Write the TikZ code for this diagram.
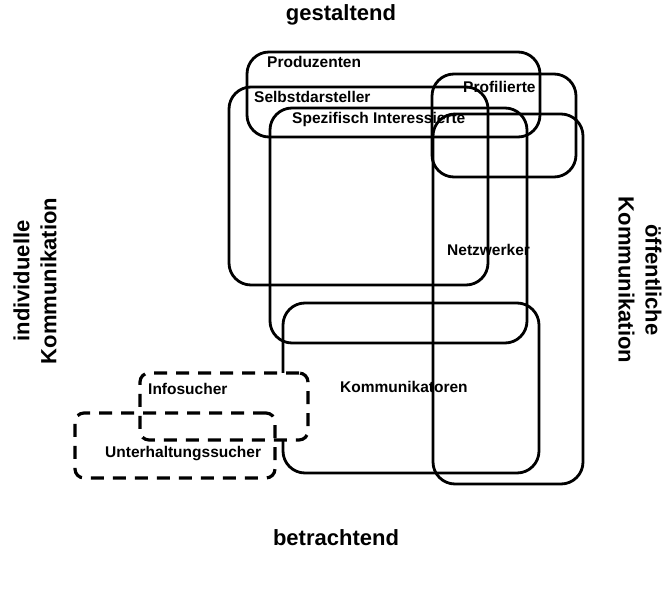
\documentclass[tikz,border=0pt]{standalone}
\usepackage{fontspec}
\setmainfont{Liberation Sans}
\usetikzlibrary{fit}
\tikzset{
  grp/.style={draw,rounded corners=22pt,line width=2.8pt,inner sep=0pt},
  grpdash/.style={draw,rounded corners=9pt,line width=3.2pt,dash pattern=on 13pt off 9pt,inner sep=0pt},
  grplbl/.style={anchor=west,inner sep=0pt,font=\fontsize{15.5}{18}\selectfont\bfseries},
  axislbl/.style={align=center,inner sep=0pt,font=\fontsize{22}{27}\selectfont\bfseries}
}
\begin{document}
\begin{tikzpicture}[x=1pt,y=-1pt]
  \useasboundingbox (0,0) rectangle (666,610);

  % Achsen
  \node[axislbl] (oben) at (341,15) {gestaltend};
  \node[axislbl] (unten) at (336,538) {betrachtend};
  \node[axislbl,rotate=90] (links) at (35,281) {individuelle\\Kommunikation};
  \node[axislbl,rotate=-90] (rechts) at (640,280) {öffentliche\\Kommunikation};

  % Gruppen
  \node[grp,fit={(247,52) (540,137)}] (prod) {};
  \node[grp,fit={(229,87) (488,285)}] (selbst) {};
  \node[grp,fit={(270,108) (527,343)}] (spez) {};
  \node[grp,fit={(432,74) (576,177)}] (profil) {};
  \node[grp,fit={(433,114) (583,484)}] (netz) {};
  \node[grp,fit={(283,303) (539,473)}] (komm) {};

  % betrachtende Gruppen
  \fill[white,rounded corners=9pt] (140,373) rectangle (308,440);
  \node[grpdash,fit={(140,373) (308,440)}] (info) {};
  \node[grpdash,fit={(75,413) (275,478)}] (unter) {};

  \node[grplbl] (prodlbl) at (267,62) {Produzenten};
  \node[grplbl] (selbstlbl) at (254,97) {Selbstdarsteller};
  \node[grplbl] (spezlbl) at (292,119) {Spezifisch Interessierte};
  \node[grplbl] (profillbl) at (463,87) {Profilierte};
  \node[grplbl] (netzlbl) at (447,250) {Netzwerker};
  \node[grplbl] (kommlbl) at (340,387) {Kommunikatoren};
  \node[grplbl] (infolbl) at (148,389) {Infosucher};
  \node[grplbl] (unterlbl) at (105,454) {Unterhaltungssucher};
\end{tikzpicture}
\end{document}
